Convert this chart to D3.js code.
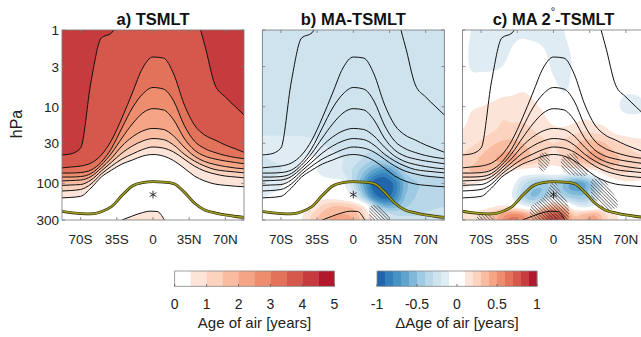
<!DOCTYPE html>
<html>
<head>
<meta charset="utf-8">
<script src="https://cdn.jsdelivr.net/npm/d3@7"></script>
<style>
  html, body { margin: 0; padding: 0; background: #fff; }
  svg { display: block; font-family: "Liberation Sans", Arial, Helvetica, sans-serif; }
</style>
</head>
<body>
<svg id="chart" width="641" height="337"></svg>
<script>
// ---------------- data ----------------
const lats = [-90,-80,-70,-60,-50,-40,-30,-20,-10,0,10,20,30,40,50,60,70,80,90];

// Age-of-air isolines (TSMLT): pressure in hPa at each latitude above
const ageLevels = [0.5, 1, 1.5, 2, 2.5, 3, 3.5, 4];
const age05 = [155,152.5,147.5,115,82.6,67.0,55.9,49.6,44.0,42.0,44.0,50.5,63.0,80.0,93.0,102,106,109,111];
const age10 = [126,124,120,102,75.5,59.4,48.1,41.4,36.1,33.5,34.6,39.0,48.1,59.4,69.0,75.5,80.2,82.6,85.2];
const age15 = [106.5,105,103.5,90.4,69.0,52.7,40.2,32.5,28.0,26.0,26.8,31.6,41.4,51.1,59.4,66.0,69.0,71.1,73.3];
const age20 = [93.2,91.8,90.4,81.4,63.1,46.7,32.5,24.8,20.7,19.2,19.8,24.1,33.5,44.0,51.9,56.7,60.3,63.1,65.0];
const age25 = [82.6,82.6,81.4,74.4,57.6,40.2,25.6,16.8,12.1,10.6,11.0,14.9,25.6,36.7,44.0,48.1,51.1,53.5,55.9];
const age30 = [73.3,73.3,72.2,67.0,52.7,34.6,18.9,10.4,6.83,5.62,5.88,8.43,17.3,28.0,35.1,39.6,43.3,46.0,48.1];
const age35 = [63.1,61.2,59.4,54.3,42.7,27.2,14.0,6.63,3.13,2.25,2.32,3.75,9.22,17.3,23.4,27.2,31.6,35.6,40.2];
const age40 = [42.7,41.4,34.6,4.76,1.27,1.09,0.6,0.5,0.5,0.5,0.5,0.5,0.5,0.6,1.57,5.2,7.47,10.1,13.6];

// small closed 0.5-year contour near 300 hPa
const bumpLats = [-30,-20,-10,-3,4,11];
const bumpP = [300,266,240,230,232,300];

// tropopause pressure (hPa)
const tropP = [229,240,247,250,234,200,144,108,97.5,95,96,100.4,129,180,222,243,258,270,278];

// tropical reference point
const starLat = 0, starP = 140;

// Age differences (years) on pressure levels x latitudes
const diffP = [1,3,10,20,30,50,70,100,150,200,250,300];
const diffMA = [
  [-0.24,-0.24,-0.24,-0.24,-0.24,-0.24,-0.24,-0.24,-0.24,-0.24,-0.24,-0.24,-0.24,-0.24,-0.24,-0.24,-0.24,-0.24,-0.24],
  [-0.24,-0.24,-0.21,-0.23,-0.24,-0.24,-0.24,-0.24,-0.24,-0.24,-0.24,-0.24,-0.24,-0.24,-0.24,-0.24,-0.24,-0.24,-0.24],
  [-0.24,-0.24,-0.24,-0.24,-0.24,-0.24,-0.24,-0.24,-0.24,-0.24,-0.24,-0.24,-0.24,-0.24,-0.24,-0.24,-0.24,-0.24,-0.24],
  [-0.24,-0.24,-0.24,-0.24,-0.24,-0.24,-0.24,-0.24,-0.24,-0.24,-0.24,-0.24,-0.24,-0.24,-0.24,-0.24,-0.24,-0.24,-0.24],
  [-0.16,-0.15,-0.15,-0.15,-0.15,-0.17,-0.2,-0.23,-0.24,-0.24,-0.24,-0.24,-0.24,-0.24,-0.24,-0.24,-0.24,-0.24,-0.24],
  [-0.22,-0.2,-0.18,-0.14,-0.1,-0.08,-0.12,-0.16,-0.2,-0.25,-0.33,-0.4,-0.38,-0.32,-0.27,-0.24,-0.24,-0.24,-0.24],
  [-0.23,-0.22,-0.2,-0.14,-0.08,-0.08,-0.12,-0.16,-0.2,-0.32,-0.48,-0.66,-0.76,-0.6,-0.38,-0.3,-0.28,-0.27,-0.26],
  [-0.2,-0.18,-0.12,-0.05,-0.03,-0.03,-0.05,-0.05,-0.08,-0.3,-0.62,-0.95,-1.0,-0.86,-0.55,-0.42,-0.37,-0.34,-0.32],
  [-0.12,-0.08,-0.05,0,0,0.02,0.05,0.05,0,-0.1,-0.42,-0.8,-0.95,-0.8,-0.5,-0.4,-0.36,-0.34,-0.32],
  [-0.05,-0.03,0,0,0.02,0.1,0.22,0.3,0.3,0.25,0.1,-0.3,-0.55,-0.55,-0.42,-0.36,-0.33,-0.31,-0.3],
  [-0.05,0,0,0.02,0.08,0.2,0.32,0.38,0.4,0.35,0.2,0,-0.22,-0.32,-0.32,-0.31,-0.29,-0.28,-0.27],
  [-0.05,0,0.02,0.05,0.1,0.22,0.35,0.42,0.45,0.4,0.25,0.05,-0.15,-0.26,-0.28,-0.28,-0.27,-0.26,-0.25]
];
const diffMA2 = [
  [-0.05,-0.1,-0.14,-0.15,-0.13,-0.12,-0.12,-0.13,-0.13,-0.12,-0.1,-0.05,0,0,0,0,0,0,0],
  [0,-0.11,-0.12,-0.12,-0.1,-0.05,0,0,-0.05,-0.12,-0.14,-0.08,0,0,0,0,0,0,0],
  [0.05,0.08,0.1,0.12,0.15,0.15,0.15,0.12,0.08,0,-0.06,-0.03,0.02,0,0,-0.08,-0.12,-0.12,-0.1],
  [0.1,0.12,0.15,0.18,0.22,0.22,0.22,0.2,0.15,0.12,0.12,0.15,0.18,0.15,0.12,0.05,0.02,0,0],
  [0.15,0.18,0.22,0.28,0.32,0.33,0.3,0.26,0.22,0.2,0.22,0.28,0.33,0.34,0.3,0.22,0.18,0.15,0.15],
  [0.22,0.26,0.32,0.38,0.42,0.42,0.35,0.26,0.2,0.15,0.2,0.27,0.36,0.42,0.4,0.33,0.26,0.22,0.2],
  [0.26,0.3,0.3,0.27,0.2,0.1,0.02,0,0,0,0,-0.02,0,0.06,0.17,0.22,0.21,0.18,0.15],
  [0.15,0.12,0.08,0.03,0,-0.05,-0.25,-0.4,-0.45,-0.35,-0.5,-0.65,-0.6,-0.35,-0.05,0.05,0.08,0.08,0.08],
  [0.05,0.03,0,0,0,-0.1,-0.35,-0.5,-0.4,-0.15,-0.35,-0.45,-0.45,-0.2,0,0.05,0.05,0.05,0.05],
  [0.05,0.05,0.05,0.08,0.12,0.08,-0.05,-0.1,0.15,0.35,0.25,-0.05,-0.15,-0.05,0.05,0.05,0.05,0.05,0.05],
  [0.1,0.12,0.15,0.25,0.4,0.5,0.45,0.3,0.55,0.7,0.6,0.25,0.3,0.35,0.2,0.1,0.08,0.05,0.05],
  [0.1,0.15,0.2,0.3,0.5,0.65,0.55,0.4,0.65,0.85,0.7,0.35,0.4,0.45,0.25,0.12,0.08,0.05,0.05]
];

// significance (1 = significant) on the same grid
const sigMA = [
  [0,0,0,0,0,0,0,0,0,0,0,0,0,0,0,0,0,0,0],
  [0,0,0,0,0,0,0,0,0,0,0,0,0,0,0,0,0,0,0],
  [0,0,0,0,0,0,0,0,0,0,0,0,0,0,0,0,0,0,0],
  [0,0,0,0,0,0,0,0,0,0,0,0,0,0,0,0,0,0,0],
  [0,0,0,0,0,0,0,0,0,0,0,0,0,0,0,0,0,0,0],
  [0,0,0,0,0,0,0,0,0,0,0,0,0,0,0,0,0,0,0],
  [0,0,0,0,0,0,0,0,0,0,0,0,0,0,0,0,0,0,0],
  [0,0,0,0,0,0,0,0,0,0,0,0,0,0,0,0,0,0,0],
  [0,0,0,0,0,0,0,0,0,0,0,0,0,0,0,0,0,0,0],
  [0,0,0,0,0,0,0,0,0,0,0.2,0.6,0.3,0,0,0,0,0,0],
  [0,0,0,0,0,0,0,0,0,0,0,0.9,0.7,0,0,0,0,0,0],
  [0,0,0,0,0,0,0,0,0,0,0,0.8,0.8,0.3,0,0,0,0,0]
];
const sigMA2 = [
  [0,0,0,0,0,0,0,0,0,0,0,0,0,0,0,0,0,0,0],
  [0,0,0,0,0,0,0,0,0,0,0,0,0,0,0,0,0,0,0],
  [0,0,0,0,0,0,0,0,0,0,0,0,0,0,0,0,0,0,0],
  [0,0,0,0,0,0,0,0,0,0,0,0,0,0,0,0,0,0,0],
  [0,0,0,0,0,0,0,0,0,0,0,0,0,0,0,0,0,0,0],
  [0,0,0,0,0,0,0,0,0.9,0.3,0.6,0.8,0,0,0,0,0,0,0],
  [0,0,0,0,0,0,0,0,0.5,0,0.5,0.7,0.7,0,0,0,0,0,0],
  [0,0,0,0,0,0,0,0,0,0.6,0,0,0,0.8,0.6,0,0,0,0],
  [0,0,0,0,0,0,0,0,0.5,1,0.5,0,0,0.7,0.9,0.5,0,0,0],
  [0,0,0,0,0,0,0,0.6,1,1,0.9,0,0,0,0.7,0.6,0,0,0],
  [0,0,0.5,0.4,0,0,0,0.7,1,1,1,0,0,0,0.3,0,0,0,0],
  [0,0,1,0.8,0,0,0,0.6,1,1,0.8,0,0,0,0,0,0,0,0]
];

const latTicks = [-70,-35,0,35,70];
const latTickLabels = ["70S","35S","0","35N","70N"];
const pTicks = [1,3,10,30,100,300];
const ageTicks = [0,1,2,3,4,5];
const diffTicks = [-1,-0.5,0,0.5,1];
const panelTitles = ["a) TSMLT","b) MA-TSMLT","c) MA 2\u00B0-TSMLT"];

// colour maps
const ageColors = ["#ffffff","#fce4d8","#fcd3bf","#f9bca0","#f5a585","#ee8d6d","#e3725b","#d6574b","#c63b3e","#b2182b"];
const diffBlues = ["#e0ecf4","#cfe3ef","#b8d8e9","#9ecbe3","#80b8d9","#5fa3cd","#4592c4","#3580ba","#2166ac"];
const diffReds  = ["#fce4d8","#fcd3bf","#f9bca0","#f5a585","#ee8d6d","#e3725b","#d6574b","#c63b3e","#b2182b"];

// ---------------- layout ----------------
const svg = d3.select("#chart");
const W = 182, plotTop = 30, plotBottom = 220;
const panelLeft = [62, 262.3, 462.5];
const y = d3.scaleLog().domain([1, 300]).range([plotTop, plotBottom]);
const isolines = [age05, age10, age15, age20, age25, age30, age35, age40];
const ageColor = d3.scaleThreshold().domain(d3.range(0.5, 5, 0.5)).range(ageColors);

const diffThresholds = d3.range(-0.9, -0.05, 0.1).map(v => +v.toFixed(2))
  .concat(d3.range(0.1, 0.95, 0.1).map(v => +v.toFixed(2)));
const diffColor = d3.scaleThreshold()
  .domain(diffThresholds)
  .range(diffBlues.slice().reverse().concat(["#ffffff"], diffReds));

// hatch pattern for significant regions
const defs = svg.append("defs");
const pat = defs.append("pattern").attr("id", "hatch").attr("patternUnits", "userSpaceOnUse")
  .attr("width", 2.4).attr("height", 2.4).attr("patternTransform", "rotate(-45)");
pat.append("line").attr("x1", 0).attr("y1", 0).attr("x2", 0).attr("y2", 2.4)
  .attr("stroke", "#1a1a1a").attr("stroke-width", 1.0);

// ---------------- helpers ----------------
function cubic(p0, p1, p2, p3, t) {
  return p1 + 0.5 * t * (p2 - p0 + t * (2 * p0 - 5 * p1 + 4 * p2 - p3 + t * (3 * (p1 - p2) + p3 - p0)));
}
function sampleGrid(grid, fi, fj) {
  const nr = grid.length, nc = grid[0].length;
  const i = Math.floor(fi), j = Math.floor(fj);
  const ti = fi - i, tj = fj - j;
  const cl = (a, hi) => Math.max(0, Math.min(hi, a));
  const col = [];
  for (let m = -1; m <= 2; m++) {
    const r = grid[cl(j + m, nr - 1)];
    col.push(cubic(r[cl(i - 1, nc - 1)], r[cl(i, nc - 1)], r[cl(i + 1, nc - 1)], r[cl(i + 2, nc - 1)], ti));
  }
  return cubic(col[0], col[1], col[2], col[3], tj);
}
const logP = diffP.map(Math.log10);
function rowIndex(p) {
  const lp = Math.log10(p);
  for (let k = 0; k < logP.length - 1; k++) {
    if (lp <= logP[k + 1]) return k + (lp - logP[k]) / (logP[k + 1] - logP[k]);
  }
  return logP.length - 1;
}
function fieldOnPixels(grid, x, left) {
  const nx = W, ny = plotBottom - plotTop;
  const vals = new Float64Array(nx * ny);
  for (let j = 0; j < ny; j++) {
    const fj = rowIndex(y.invert(plotTop + j + 0.5));
    for (let i = 0; i < nx; i++) {
      const lat = x.invert(left + i + 0.5);
      const fi = (lat - lats[0]) / 10;
      vals[j * nx + i] = sampleGrid(grid, fi, fj);
    }
  }
  return { vals, nx, ny };
}

// ---------------- panels ----------------
panelLeft.forEach((left, pi) => {
  const x = d3.scaleLinear().domain([-88, 88]).range([left, left + W]);
  const clipId = "clip" + pi;
  defs.append("clipPath").attr("id", clipId)
    .append("rect").attr("x", left).attr("y", plotTop).attr("width", W).attr("height", plotBottom - plotTop);
  const g = svg.append("g").attr("clip-path", `url(#${clipId})`);

  if (pi === 0) {
    // filled age bands: each isoline fills everything above it with the next class
    g.append("rect").attr("x", left).attr("y", plotTop).attr("width", W).attr("height", plotBottom - plotTop)
      .attr("fill", ageColor(0));
    isolines.forEach((arr, k) => {
      const area = d3.area().curve(d3.curveMonotoneX)
        .x((d, i) => x(lats[i])).y0(0).y1(d => y(d));
      g.append("path").datum(arr).attr("d", area).attr("fill", ageColor(ageLevels[k]));
    });
    const bumpArea = d3.area().curve(d3.curveMonotoneX)
      .x((d, i) => x(bumpLats[i])).y0(plotBottom + 5).y1(d => y(d));
    g.append("path").datum(bumpP).attr("d", bumpArea).attr("fill", ageColor(ageLevels[0]));
  } else {
    const grid = pi === 1 ? diffMA : diffMA2;
    const sig = pi === 1 ? sigMA : sigMA2;
    const f = fieldOnPixels(grid, x, left);
    const cg = g.append("g").attr("transform", `translate(${left},${plotTop})`);
    cg.append("rect").attr("width", W).attr("height", plotBottom - plotTop).attr("fill", diffColor(-1));
    const contours = d3.contours().size([f.nx, f.ny]).thresholds(diffThresholds)(f.vals);
    const path = d3.geoPath();
    cg.selectAll("path.band").data(contours).join("path").attr("class", "band")
      .attr("d", path).attr("fill", d => diffColor(d.value));
    const s = fieldOnPixels(sig, x, left);
    const sc = d3.contours().size([s.nx, s.ny]).thresholds([0.5])(s.vals);
    cg.selectAll("path.sig").data(sc).join("path").attr("class", "sig")
      .attr("d", path).attr("fill", "url(#hatch)");
  }

  // age isolines
  const line = d3.line().curve(d3.curveMonotoneX).x((d, i) => x(lats[i])).y(d => y(d));
  g.selectAll("path.iso").data(isolines).join("path").attr("class", "iso")
    .attr("d", line).attr("fill", "none").attr("stroke", "#111").attr("stroke-width", 1);
  const bumpLine = d3.line().curve(d3.curveMonotoneX).x((d, i) => x(bumpLats[i])).y(d => y(d));
  g.append("path").datum(bumpP).attr("d", bumpLine).attr("fill", "none").attr("stroke", "#111").attr("stroke-width", 1);

  // tropopause
  g.append("path").datum(tropP).attr("d", line).attr("fill", "none")
    .attr("stroke", "#2e2e08").attr("stroke-width", 2.8);
  g.append("path").datum(tropP).attr("d", line).attr("fill", "none")
    .attr("stroke", "#a09e22").attr("stroke-width", 1.5);

  // reference point
  g.append("path").attr("d", d3.symbol().type(d3.symbolAsterisk).size(42)())
    .attr("transform", `translate(${x(starLat)},${y(starP)})`)
    .attr("fill", "none").attr("stroke", "#222").attr("stroke-width", 0.9);

  // frame and ticks
  const fr = svg.append("g");
  fr.append("rect").attr("x", left).attr("y", plotTop).attr("width", W).attr("height", plotBottom - plotTop)
    .attr("fill", "none").attr("stroke", "#777").attr("stroke-width", 0.8);
  pTicks.forEach(p => {
    fr.append("line").attr("x1", left).attr("x2", left + 3).attr("y1", y(p)).attr("y2", y(p)).attr("stroke", "#777").attr("stroke-width", 0.8);
    fr.append("line").attr("x1", left + W).attr("x2", left + W - 3).attr("y1", y(p)).attr("y2", y(p)).attr("stroke", "#777").attr("stroke-width", 0.8);
  });
  latTicks.forEach(l => {
    fr.append("line").attr("x1", x(l)).attr("x2", x(l)).attr("y1", plotBottom).attr("y2", plotBottom - 3).attr("stroke", "#777").attr("stroke-width", 0.8);
    fr.append("line").attr("x1", x(l)).attr("x2", x(l)).attr("y1", plotTop).attr("y2", plotTop + 3).attr("stroke", "#777").attr("stroke-width", 0.8);
  });

  // x tick labels
  latTicks.forEach((l, i) => {
    svg.append("text").attr("x", x(l)).attr("y", 243.5).attr("text-anchor", "middle")
      .attr("font-size", 13.5).attr("fill", "#222").text(latTickLabels[i]);
  });

  // title
  const t = svg.append("text").attr("x", x(0)).attr("y", 25).attr("text-anchor", "middle")
    .attr("font-size", 16.5).attr("font-weight", "bold").attr("fill", "#111");
  if (pi === 2) {
    t.append("tspan").text("c) MA 2");
    t.append("tspan").attr("dy", -10).attr("font-size", 11).attr("font-weight", "normal").text("\u00B0");
    t.append("tspan").attr("dy", 10).text("-TSMLT");
  } else {
    t.text(panelTitles[pi]);
  }

  if (pi === 0) {
    pTicks.forEach(p => {
      svg.append("text").attr("x", 59).attr("y", y(p) + 5).attr("text-anchor", "end")
        .attr("font-size", 13.5).attr("fill", "#222").text(p);
    });
    svg.append("text").attr("transform", "translate(21.5,124) rotate(-90)").attr("text-anchor", "middle")
      .attr("font-size", 16).attr("fill", "#222").text("hPa");
  }
});

// ---------------- colour bars ----------------
function colorbar(x0, x1, domain, colors, ticks, label) {
  const cb = d3.scaleLinear().domain(domain).range([x0, x1]);
  const n = colors.length, step = (domain[1] - domain[0]) / n;
  const g = svg.append("g");
  colors.forEach((c, i) => {
    g.append("rect").attr("x", cb(domain[0] + i * step)).attr("y", 271)
      .attr("width", cb(domain[0] + (i + 1) * step) - cb(domain[0] + i * step) + 0.3).attr("height", 15.3)
      .attr("fill", c);
  });
  g.append("rect").attr("x", x0).attr("y", 271).attr("width", x1 - x0).attr("height", 15.3)
    .attr("fill", "none").attr("stroke", "#888").attr("stroke-width", 0.8);
  ticks.forEach(tv => {
    g.append("line").attr("x1", cb(tv)).attr("x2", cb(tv)).attr("y1", 286.3).attr("y2", 284)
      .attr("stroke", "#555").attr("stroke-width", 0.8);
    g.append("text").attr("x", cb(tv)).attr("y", 308.5).attr("text-anchor", "middle")
      .attr("font-size", 14).attr("fill", "#222").text(tv);
  });
  g.append("text").attr("x", (x0 + x1) / 2).attr("y", 328).attr("text-anchor", "middle")
    .attr("font-size", 15).attr("fill", "#222").text(label);
}
colorbar(174.7, 334.3, [0, 5], ageColors, ageTicks, "Age of air [years]");
const diffBarColors = d3.range(20).map(i => diffColor(-1 + i * 0.1 + 0.05));
colorbar(377, 537, [-1, 1], diffBarColors, diffTicks, "\u0394Age of air [years]");
</script>
</body>
</html>
